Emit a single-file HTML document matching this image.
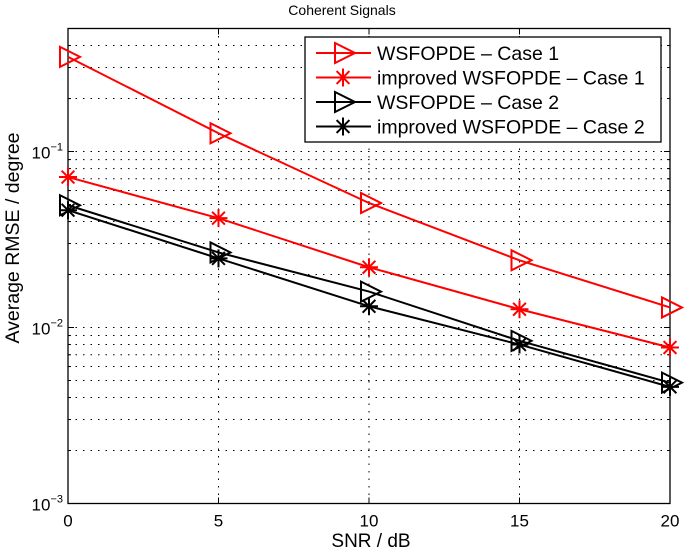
<!DOCTYPE html>
<html><head><meta charset="utf-8"><style>
body{margin:0;background:#fff;}
svg{display:block;font-family:"Liberation Sans",Arial,sans-serif;}
</style></head><body>
<svg id="chart" width="685" height="550" xmlns="http://www.w3.org/2000/svg"></svg>
<script>
const categories = [0, 5, 10, 15, 20];
const seriesNames = ["WSFOPDE \u2013 Case 1", "improved WSFOPDE \u2013 Case 1", "WSFOPDE \u2013 Case 2", "improved WSFOPDE \u2013 Case 2"];
const wsfopdeCase1 = [0.345, 0.127, 0.051, 0.0241, 0.0130];
const improvedCase1 = [0.0716, 0.0418, 0.022, 0.0127, 0.0077];
const wsfopdeCase2 = [0.0495, 0.0267, 0.016, 0.0084, 0.00486];
const improvedCase2 = [0.0464, 0.0247, 0.0132, 0.0080, 0.0046];
const xTicks = [0, 5, 10, 15, 20];
const yDecades = [-3, -2, -1];

const NS = "http://www.w3.org/2000/svg";
const svg = document.getElementById('chart');
const L = 68, R = 670, T = 28.5, B = 503.5;
const yMinL = -3, yMaxL = Math.log10(0.5);
function xs(v){ return L + (v - 0) / (20 - 0) * (R - L); }
function ys(v){ return B - (Math.log10(v) - yMinL) / (yMaxL - yMinL) * (B - T); }
function el(tag, attrs, parent){ const e = document.createElementNS(NS, tag); for (const k in attrs) e.setAttribute(k, attrs[k]); (parent || svg).appendChild(e); return e; }

const title = el('text', {x: 342, y: 15, 'text-anchor': 'middle', 'font-size': 14});


title.textContent = 'Coherent Signals';

const grid = el('g', {stroke: '#000', 'stroke-width': 1, 'stroke-dasharray': '1.5,6'});


xTicks.forEach(t => { if (t > 0 && t < 20) el('line', {x1: xs(t), x2: xs(t), y1: T, y2: B}, grid); });
yDecades.forEach(d => {
  for (let m = 1; m <= 9; m++) {
    const v = m * Math.pow(10, d);
    if (v > 0.5 + 1e-9 || (d === -3 && m === 1)) continue;
    el('line', {x1: L, x2: R, y1: ys(v), y2: ys(v)}, grid);
  }
});

const box = el('rect', {x: L, y: T, width: R-L, height: B-T, fill: 'none', stroke: '#000', 'stroke-width': 1.3});



xTicks.forEach(t => {
  el('line', {x1: xs(t), x2: xs(t), y1: B, y2: B-6, stroke: '#000'});
  el('line', {x1: xs(t), x2: xs(t), y1: T, y2: T+6, stroke: '#000'});
  const tx = el('text', {x: xs(t), y: B + 23, 'text-anchor': 'middle', 'font-size': 17});
  
  
  tx.textContent = t;
});
yDecades.forEach(d => {
  for (let m = 1; m <= 9; m++) {
    const v = m * Math.pow(10, d);
    if (v > 0.5 + 1e-9) continue;
    const len = m === 1 ? 6 : 3;
    el('line', {x1: L, x2: L+len, y1: ys(v), y2: ys(v), stroke: '#000'});
    el('line', {x1: R, x2: R-len, y1: ys(v), y2: ys(v), stroke: '#000'});
  }
  const ty = el('text', {x: L - 5, y: ys(Math.pow(10, d)) + 7, 'text-anchor': 'end', 'font-size': 17});
  
  
  ty.innerHTML = '10<tspan dy="-8" font-size="11">\u2212' + (-d) + '</tspan>';
});

const xl = el('text', {x: 371, y: 547, 'text-anchor': 'middle', 'font-size': 19});


xl.textContent = 'SNR / dB';
const yl = el('text', {x: 0, y: 0, 'text-anchor': 'middle', 'font-size': 19.5, transform: 'translate(19,238) rotate(-90)'});


yl.textContent = 'Average RMSE / degree';

function triMarker(g, x, y, color){
  el('polygon', {points: (x-8)+','+(y-10)+' '+(x+12)+','+y+' '+(x-8)+','+(y+10), fill: 'none', stroke: color, 'stroke-width': 2}, g);
}
function starMarker(g, x, y, color){
  const r = 9;
  const d = 'M'+(x-r)+','+y+'H'+(x+r)+'M'+x+','+(y-r)+'V'+(y+r)+'M'+(x-6.4)+','+(y-6.4)+'L'+(x+6.4)+','+(y+6.4)+'M'+(x-6.4)+','+(y+6.4)+'L'+(x+6.4)+','+(y-6.4);
  el('path', {d: d, stroke: color, 'stroke-width': 2, fill: 'none'}, g);
}
const series = [
  {data: wsfopdeCase1, color: '#ff0000', marker: triMarker, name: 'series-wsfopde-case1'},
  {data: improvedCase1, color: '#ff0000', marker: starMarker, name: 'series-improved-case1'},
  {data: wsfopdeCase2, color: '#000000', marker: triMarker, name: 'series-wsfopde-case2'},
  {data: improvedCase2, color: '#000000', marker: starMarker, name: 'series-improved-case2'}
];
series.forEach(s => {
  const g = el('g', {});
  
  
  const pts = s.data.map((v,i) => xs(categories[i]) + ',' + ys(v)).join(' ');
  el('polyline', {points: pts, fill: 'none', stroke: s.color, 'stroke-width': 2}, g);
  s.data.forEach((v,i) => s.marker(g, xs(categories[i]), ys(v), s.color));
});

const lg = el('g', {});


el('rect', {x: 305, y: 37, width: 356, height: 105, fill: '#fff', stroke: '#000', 'stroke-width': 1.3}, lg);
series.forEach((s, i) => {
  const y = 53 + i * 24.5;
  const e = el('g', {}, lg);
  
  
  el('line', {x1: 316, x2: 371, y1: y, y2: y, stroke: s.color, 'stroke-width': 2}, e);
  s.marker(e, 343, y, s.color);
  const t = el('text', {x: 377, y: y + 7, 'font-size': 19.5}, e);
  t.textContent = seriesNames[i];
});
</script>
</body></html>
